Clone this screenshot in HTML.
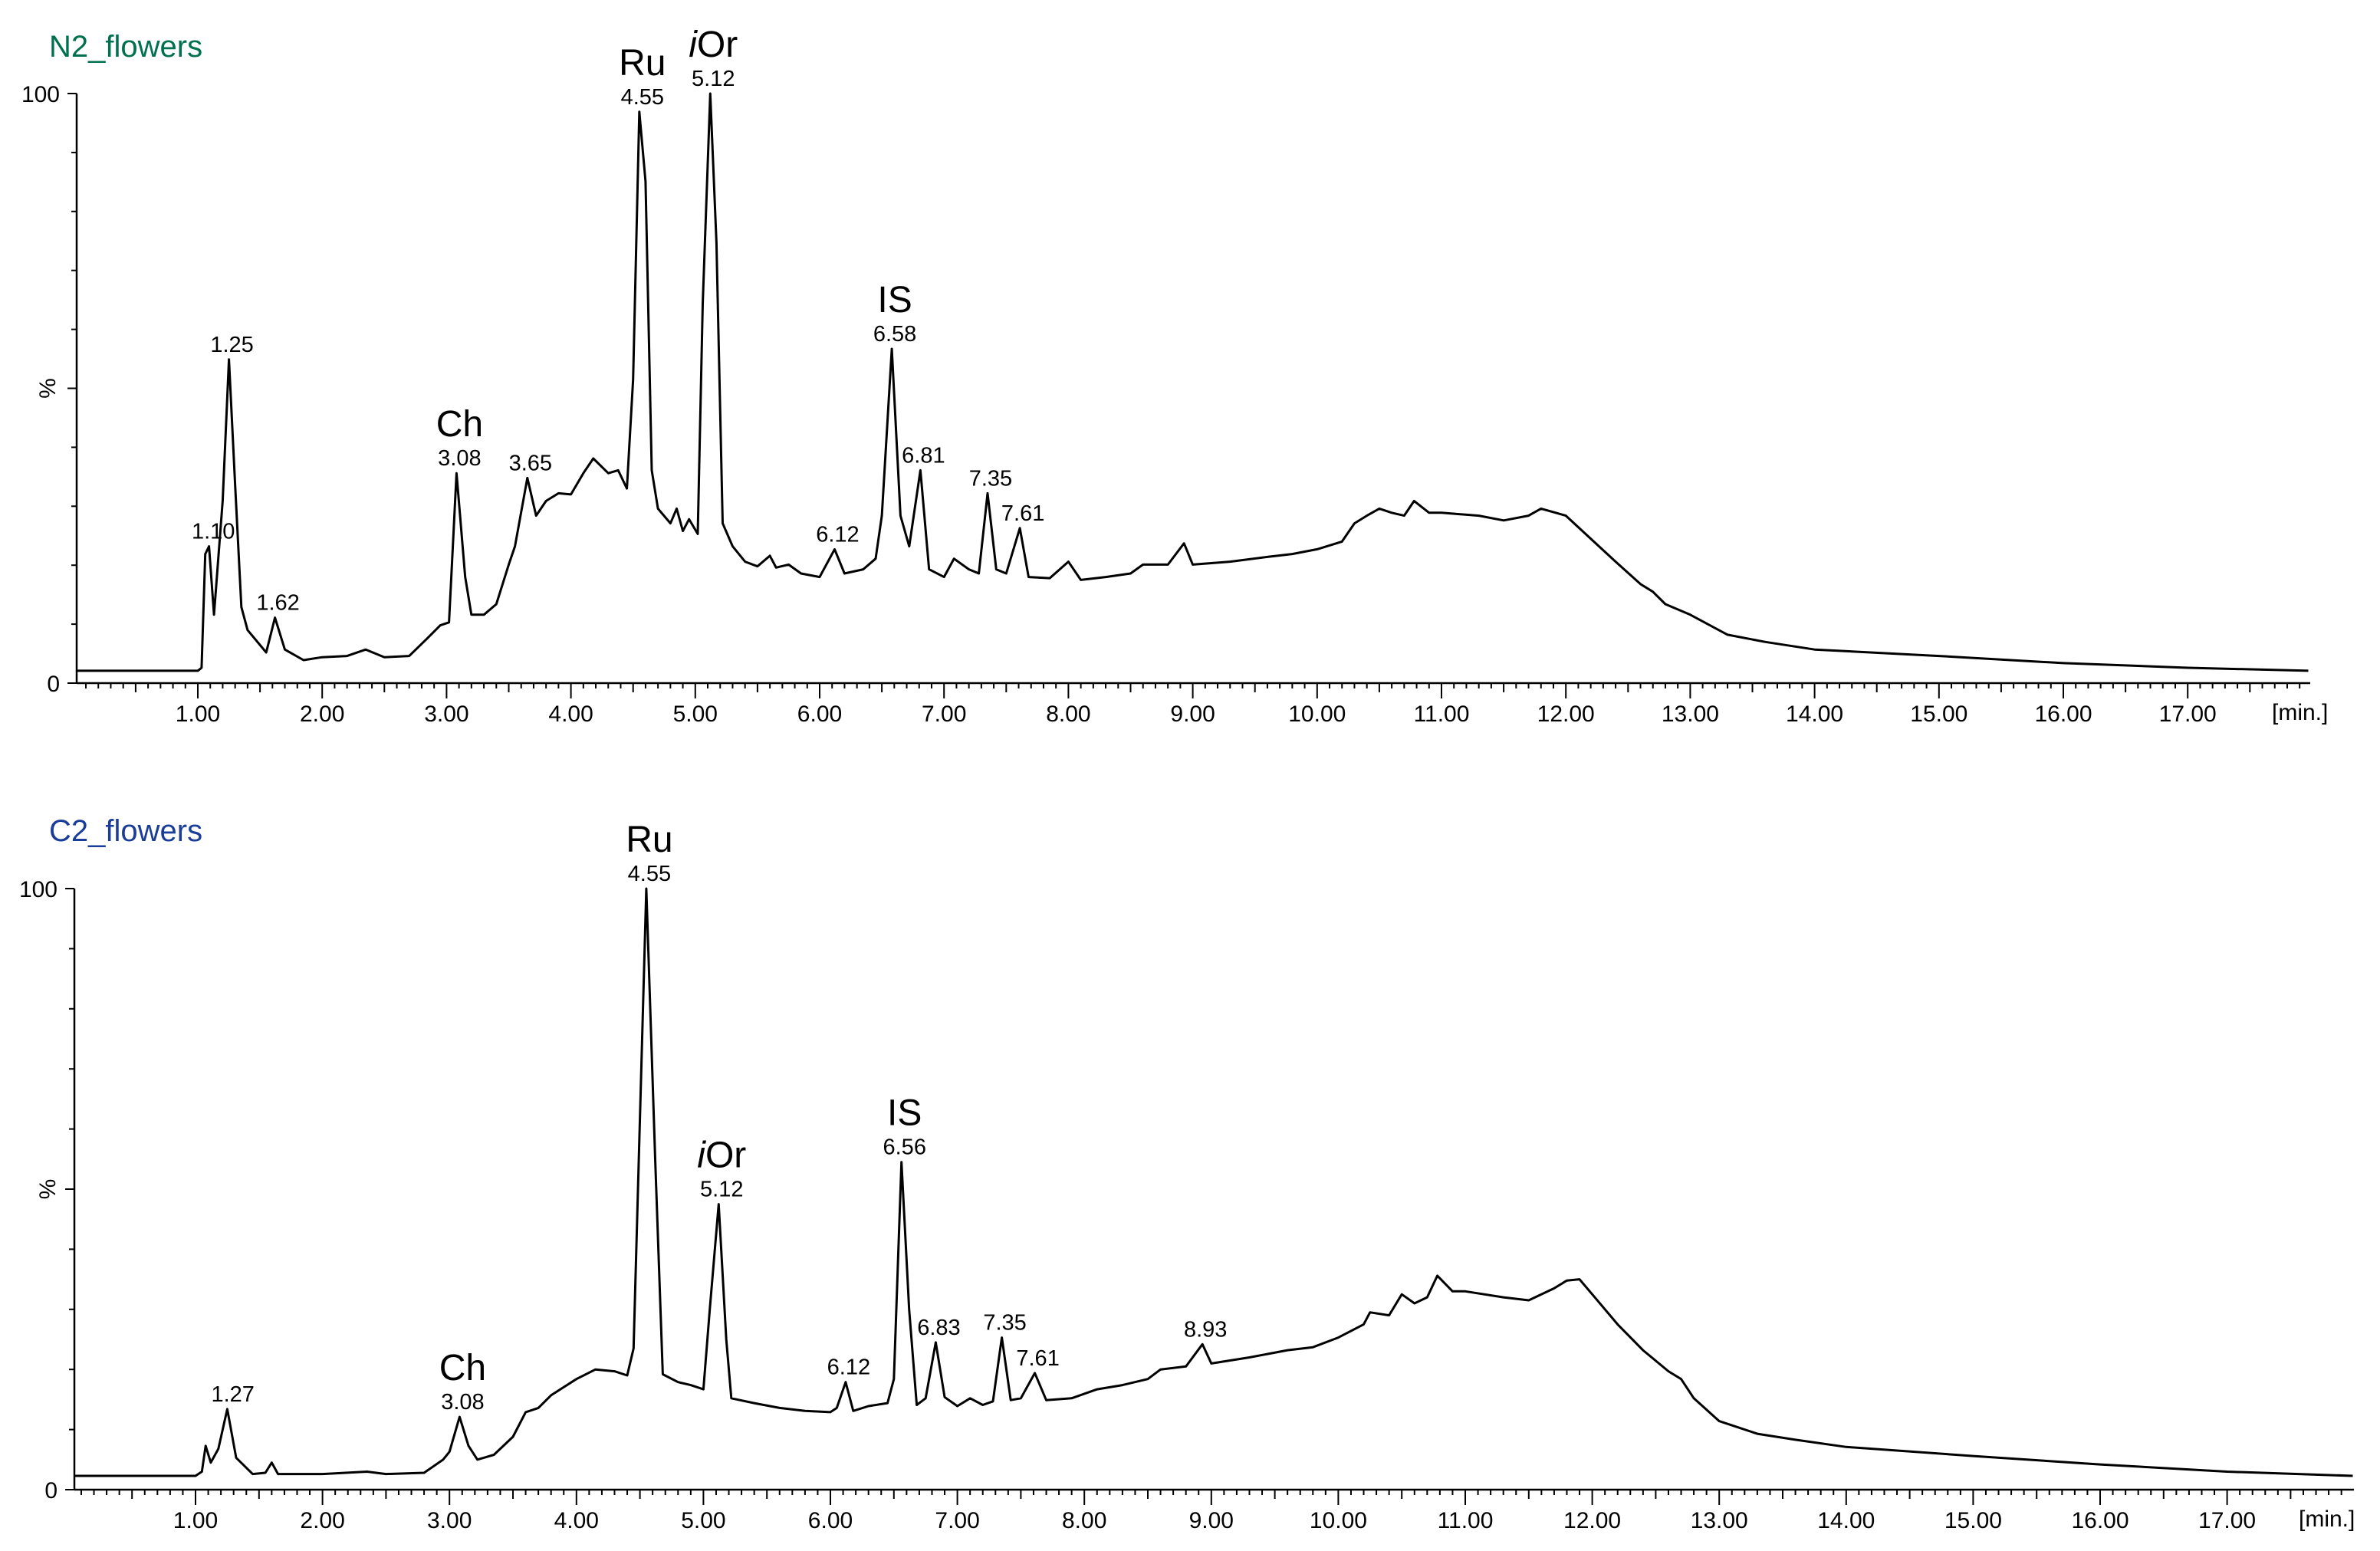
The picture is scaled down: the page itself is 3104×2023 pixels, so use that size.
<!DOCTYPE html>
<html><head><meta charset="utf-8">
<style>
html,body{margin:0;padding:0;background:#fff;}
svg{display:block;font-family:"Liberation Sans",Arial,sans-serif;}
</style></head>
<body>
<svg id="chart" width="3104" height="2023" viewBox="0 0 3104 2023" xmlns="http://www.w3.org/2000/svg">
<rect width="3104" height="2023" fill="#fff"/>
<text x="64" y="74" font-size="40" fill="#00704f">N2_flowers</text>
<text x="64" y="1097" font-size="40" fill="#1a3d9a">C2_flowers</text>
<g id="g"></g>
</svg>
<script>
// Top trace (N2_flowers): retention time (min) and relative intensity (%)
const topTimes = [0.03,1.0,1.03,1.06,1.09,1.13,1.20,1.25,1.30,1.35,1.40,1.55,1.62,1.70,1.85,2.0,2.2,2.35,2.5,2.7,2.85,2.95,3.02,3.08,3.15,3.2,3.3,3.4,3.5,3.55,3.65,3.72,3.8,3.9,4.0,4.1,4.18,4.3,4.38,4.45,4.5,4.55,4.6,4.65,4.7,4.8,4.85,4.9,4.95,5.02,5.06,5.12,5.17,5.22,5.3,5.4,5.5,5.6,5.65,5.75,5.85,6.0,6.12,6.2,6.35,6.45,6.5,6.58,6.65,6.72,6.81,6.88,7.0,7.08,7.2,7.28,7.35,7.42,7.5,7.61,7.68,7.85,8.0,8.1,8.3,8.5,8.6,8.8,8.93,9.0,9.3,9.6,9.8,10.0,10.2,10.3,10.4,10.5,10.6,10.7,10.78,10.9,11.0,11.3,11.5,11.7,11.8,12.0,12.2,12.4,12.6,12.7,12.8,13.0,13.3,13.6,14.0,15.0,16.0,17.0,17.97];
const topValues = [2.1,2.1,2.6,21.9,23.2,11.6,30.9,54.9,33.5,12.9,9.0,5.2,11.1,5.7,3.9,4.4,4.6,5.7,4.4,4.6,7.7,9.8,10.3,35.6,18.0,11.6,11.6,13.4,20.1,23.2,34.8,28.4,30.9,32.2,32.0,35.6,38.1,35.6,36.1,33.0,51.5,96.9,85.1,36.1,29.6,27.1,29.6,25.8,27.8,25.3,64.4,100,74.7,27.1,23.2,20.6,19.8,21.6,19.6,20.1,18.6,18.0,22.7,18.6,19.3,21.1,28.4,56.7,28.4,23.2,36.1,19.3,18.0,21.1,19.3,18.6,32.2,19.3,18.6,26.3,18.0,17.8,20.6,17.5,18.0,18.6,20.1,20.1,23.7,20.1,20.6,21.4,21.9,22.7,24.0,27.1,28.4,29.6,28.9,28.4,30.9,28.9,28.9,28.4,27.6,28.4,29.6,28.4,24.5,20.6,16.8,15.5,13.4,11.6,8.2,7.0,5.7,4.6,3.4,2.6,2.1];
// Bottom trace (C2_flowers)
const botTimes = [0.05,1.0,1.05,1.08,1.12,1.18,1.25,1.32,1.45,1.55,1.6,1.65,2.0,2.35,2.5,2.8,2.95,3.0,3.08,3.15,3.22,3.35,3.5,3.6,3.7,3.8,4.0,4.15,4.3,4.4,4.45,4.55,4.62,4.68,4.8,4.9,5.0,5.05,5.12,5.18,5.22,5.4,5.6,5.8,6.0,6.05,6.12,6.18,6.3,6.45,6.5,6.56,6.62,6.68,6.75,6.83,6.9,7.0,7.1,7.2,7.28,7.35,7.42,7.5,7.61,7.7,7.9,8.1,8.3,8.5,8.6,8.8,8.93,9.0,9.3,9.6,9.8,10.0,10.2,10.25,10.4,10.5,10.6,10.7,10.78,10.9,11.0,11.3,11.5,11.7,11.8,11.9,12.0,12.2,12.4,12.6,12.7,12.8,13.0,13.3,13.6,14.0,15.0,16.0,17.0,17.99];
const botValues = [2.3,2.3,3.0,7.3,4.5,6.8,13.4,5.3,2.6,2.8,4.5,2.6,2.6,3.0,2.6,2.8,5.0,6.3,12.1,7.3,5.0,5.8,8.8,12.9,13.6,15.7,18.4,20.0,19.7,19.0,23.5,100,55,19.2,17.9,17.4,16.7,30,47.5,25,15.2,14.4,13.6,13.1,12.9,13.6,17.9,13.1,13.9,14.4,18.4,54.5,30,14.1,15.2,24.5,15.4,13.9,15.2,14.1,14.7,25.3,14.9,15.2,19.4,14.9,15.2,16.7,17.4,18.4,20.0,20.5,24.2,21.0,22.0,23.2,23.7,25.3,27.5,29.5,29.0,32.5,31.0,32.0,35.6,33.0,33.0,32.0,31.5,33.5,34.8,35.0,32.5,27.5,23.2,19.7,18.4,15.2,11.4,9.3,8.3,7.1,5.6,4.2,3.0,2.3];
const xTickLabels = ["1.00","2.00","3.00","4.00","5.00","6.00","7.00","8.00","9.00","10.00","11.00","12.00","13.00","14.00","15.00","16.00","17.00"];
const yTickLabels = ["0","100"];
// Peak annotations
const topPeakTimes = [1.10,1.25,1.62,3.08,3.65,4.55,5.12,6.12,6.58,6.81,7.35,7.61];
const topPeakLabels = ["1.10","1.25","1.62","3.08","3.65","4.55","5.12","6.12","6.58","6.81","7.35","7.61"];
const topPeakValues = [23.2,54.9,11.1,35.6,34.8,96.9,100,22.7,56.7,36.1,32.2,26.3];
const botPeakTimes = [1.27,3.08,4.55,5.12,6.12,6.56,6.83,7.35,7.61,8.93];
const botPeakLabels = ["1.27","3.08","4.55","5.12","6.12","6.56","6.83","7.35","7.61","8.93"];
const botPeakValues = [13.4,12.1,100,47.5,17.9,54.5,24.5,25.3,19.4,24.2];
const topCompounds = [["Ch",3.08],["Ru",4.55],["Or",5.12],["IS",6.58]];
const botCompounds = [["Ch",3.08],["Ru",4.55],["Or",5.12],["IS",6.56]];

const NS="http://www.w3.org/2000/svg";
const g=document.getElementById('g');
function mk(tag,attrs,parent){const e=document.createElementNS(NS,tag);for(const k in attrs)e.setAttribute(k,attrs[k]);(parent||g).appendChild(e);return e;}

function panel(id,cfg,times,vals,pt,pl,pv,comps){
  const {X0,PXM,y0,y100,ax,axisEnd,minX}=cfg;
  const xs=t=>X0+PXM*t;
  const ys=v=>y0-(y0-y100)*v/100;
  const grp=mk('g',{});
  
  
  const ya=mk('line',{x1:ax,y1:y100,x2:ax,y2:y0,stroke:'#000','stroke-width':2.5},grp);
  
  
  for(let i=0;i<=10;i++){const y=ys(i*10);const L=(i%5===0)?12:7;mk('line',{x1:ax-L,y1:y,x2:ax,y2:y,stroke:'#000','stroke-width':2},grp);}
  yTickLabels.forEach(s=>{const t=mk('text',{x:ax-22,y:ys(+s)+11,'font-size':30,'text-anchor':'end'},grp);t.textContent=s;
    
    });
  const pc=mk('text',{x:0,y:0,'font-size':30,'text-anchor':'middle',transform:`translate(72,${ys(50)}) rotate(-90)`},grp);pc.textContent='%';
  
  
  const xa=mk('line',{x1:ax,y1:y0,x2:axisEnd,y2:y0,stroke:'#000','stroke-width':2.5},grp);
  
  
  for(let k=1;xs(k/10)<=axisEnd;k++){const x=xs(k/10);const L=(k%10===0)?20:(k%5===0?12:7);mk('line',{x1:x,y1:y0,x2:x,y2:y0+L,stroke:'#000','stroke-width':2},grp);}
  xTickLabels.forEach(s=>{const t=mk('text',{x:xs(+s),y:y0+50,'font-size':30,'text-anchor':'middle'},grp);t.textContent=s;
    
    });
  const mn=mk('text',{x:minX,y:y0+48,'font-size':30,'text-anchor':'start'},grp);mn.textContent='[min.]';
  
  
  const d=times.map((t,i)=>(i?'L':'M')+xs(t).toFixed(1)+' '+ys(vals[i]).toFixed(1)).join(' ');
  const p=mk('path',{d:d,fill:'none',stroke:'#000','stroke-width':3,'stroke-linejoin':'round'},grp);
  
  
  pt.forEach((t,i)=>{const tx=mk('text',{x:xs(t)+4,y:ys(pv[i])-10,'font-size':29,'text-anchor':'middle'},grp);tx.textContent=pl[i];
    
    });
  comps.forEach(c=>{const i=pt.indexOf(c[1]);const v=pv[i];
    const tx=mk('text',{x:xs(c[1])+4,y:ys(v)-48,'font-size':48,'text-anchor':'middle'},grp);
    if(c[0]==='Or'){const a=mk('tspan',{'font-style':'italic'},tx);a.textContent='i';const b=mk('tspan',{},tx);b.textContent='Or';}
    else tx.textContent=c[0];
    
    });
}
panel('n2',{X0:95.8,PXM:162.2,y0:891,y100:122,ax:100,axisEnd:3013,minX:2963},topTimes,topValues,topPeakTimes,topPeakLabels,topPeakValues,topCompounds);
panel('c2',{X0:89.4,PXM:165.6,y0:1943,y100:1159,ax:97,axisEnd:3070,minX:2998},botTimes,botValues,botPeakTimes,botPeakLabels,botPeakValues,botCompounds);
</script>
</body></html>
